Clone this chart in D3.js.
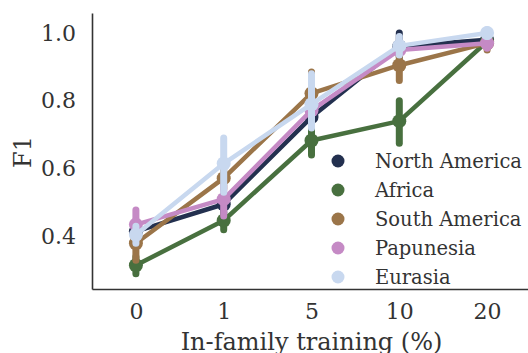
<!DOCTYPE html>
<html>
<head>
<meta charset="utf-8">
<script src="https://cdn.jsdelivr.net/npm/d3@7"></script>
<style>
  html, body { margin: 0; padding: 0; background: #fff; }
  svg { display: block; font-family: "DejaVu Serif", serif; }
</style>
</head>
<body>
<svg id="chart" width="528" height="353"></svg>
<script>
// In-family training share (x axis categories)
const categories = ["0", "1", "5", "10", "20"];
const yTicks = [0.4, 0.6, 0.8, 1.0];

// Mean F1 per macro-area
const northAmerica = [0.415, 0.495, 0.752, 0.960, 0.980];
const africa       = [0.315, 0.447, 0.683, 0.740, 0.975];
const southAmerica = [0.380, 0.572, 0.822, 0.905, 0.970];
const papunesia    = [0.435, 0.510, 0.772, 0.950, 0.970];
const eurasia      = [0.405, 0.615, 0.790, 0.962, 1.000];

// Confidence intervals [low, high]
const northAmericaCI = [[0.40, 0.43], [0.47, 0.52], [0.72, 0.79], [0.93, 1.00], [0.97, 0.99]];
const africaCI       = [[0.29, 0.34], [0.42, 0.47], [0.64, 0.72], [0.675, 0.80], [0.96, 0.99]];
const southAmericaCI = [[0.33, 0.42], [0.54, 0.60], [0.76, 0.885], [0.86, 0.94], [0.95, 0.985]];
const papunesiaCI    = [[0.40, 0.478], [0.46, 0.55], [0.74, 0.80], [0.94, 0.96], [0.955, 0.985]];
const eurasiaCI      = [[0.38, 0.43], [0.53, 0.69], [0.72, 0.88], [0.935, 0.99], [0.99, 1.01]];

const seriesNames = ["North America", "Africa", "South America", "Papunesia", "Eurasia"];
const seriesColors = ["#23304f", "#48703f", "#9b7549", "#c58ac5", "#c8d8ef"];

const series = seriesNames.map((name, i) => ({
  name,
  color: seriesColors[i],
  values: [northAmerica, africa, southAmerica, papunesia, eurasia][i],
  ci: [northAmericaCI, africaCI, southAmericaCI, papunesiaCI, eurasiaCI][i]
}));

const svg = d3.select("#chart");
const plot = { left: 92, right: 531, top: 13, bottom: 289 };

const x = d3.scalePoint().domain(categories).range([plot.left, plot.right]).padding(0.5);
const y = d3.scaleLinear().domain([0.245, 1.059]).range([plot.bottom, plot.top]);

const axisColor = "#333333";
const textColor = "#333333";

// Y axis
const yAxis = svg.append("g")
  .attr("transform", `translate(${plot.left},0)`)
  .call(d3.axisLeft(y).tickValues(yTicks).tickFormat(d3.format(".1f")).tickSize(0).tickPadding(16));
yAxis.select(".domain").attr("stroke", axisColor).attr("stroke-width", 1.6);
yAxis.selectAll("text").attr("font-size", 22).attr("fill", textColor).attr("font-family", "DejaVu Serif");

// X axis
const xAxis = svg.append("g")
  .attr("transform", `translate(0,${plot.bottom})`)
  .call(d3.axisBottom(x).tickSize(0).tickPadding(14));
xAxis.select(".domain").attr("stroke", axisColor).attr("stroke-width", 1.6);
xAxis.selectAll("text").attr("font-size", 22).attr("fill", textColor).attr("font-family", "DejaVu Serif");

// Axis titles
svg.append("text")
  .attr("x", (plot.left + 531) / 2)
  .attr("y", 350)
  .attr("text-anchor", "middle")
  .attr("font-size", 24)
  .attr("fill", textColor)
  .text("In-family training (%)");

svg.append("text")
  .attr("transform", "translate(31,152) rotate(-90)")
  .attr("text-anchor", "middle")
  .attr("font-size", 24)
  .attr("fill", textColor)
  .text("F1");

// Series: connecting line, error bars, point markers
const line = d3.line().x((d, i) => x(categories[i])).y(d => y(d));
const marks = svg.append("g");

series.forEach(s => {
  const g = marks.append("g");
  g.append("path")
    .attr("d", line(s.values))
    .attr("fill", "none")
    .attr("stroke", s.color)
    .attr("stroke-width", 4.5)
    .attr("stroke-linejoin", "round");
  g.selectAll("line.err")
    .data(s.ci)
    .join("line")
    .attr("class", "err")
    .attr("x1", (d, i) => x(categories[i]))
    .attr("x2", (d, i) => x(categories[i]))
    .attr("y1", d => y(d[0]))
    .attr("y2", d => y(d[1]))
    .attr("stroke", s.color)
    .attr("stroke-width", 7)
    .attr("stroke-linecap", "round");
  g.selectAll("circle")
    .data(s.values)
    .join("circle")
    .attr("cx", (d, i) => x(categories[i]))
    .attr("cy", d => y(d))
    .attr("r", 7)
    .attr("fill", s.color);
});

// Legend
const legend = svg.append("g").attr("transform", "translate(338,161)");
series.forEach((s, i) => {
  const row = legend.append("g").attr("transform", `translate(0,${i * 29})`);
  row.append("circle").attr("r", 6.5).attr("fill", s.color);
  row.append("text")
    .attr("x", 37)
    .attr("dy", "0.35em")
    .attr("font-size", 19.5)
    .attr("fill", textColor)
    .text(s.name);
});
</script>
</body>
</html>
